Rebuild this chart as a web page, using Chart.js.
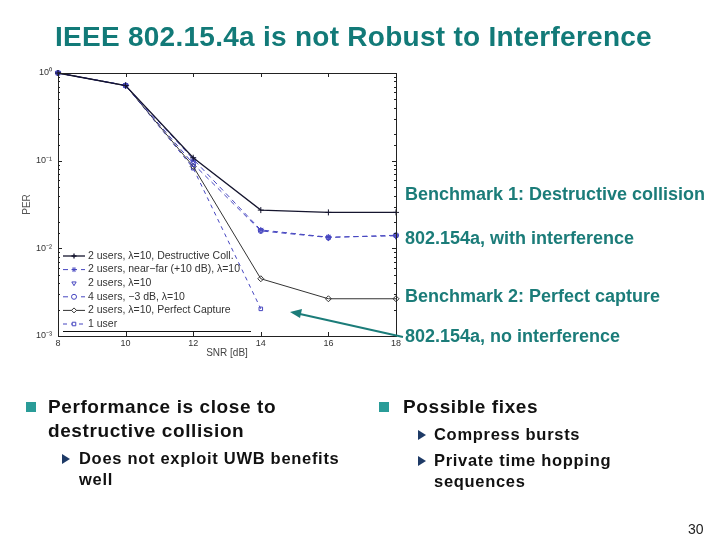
<!DOCTYPE html>
<html>
<head>
<meta charset="utf-8">
<script src="https://cdn.jsdelivr.net/npm/chart.js@4.4.1/dist/chart.umd.min.js"></script>
<style>
  html, body { margin: 0; padding: 0; background: #fff; }
  #page { position: relative; width: 720px; height: 540px; overflow: hidden; font-family: "Liberation Sans", Arial, sans-serif; }
  #chart { position: absolute; left: 0; top: 0; }
  .t { position: absolute; white-space: nowrap; }
  .title { left: 55px; top: 21px; font-size: 28px; font-weight: bold; color: #127a78; letter-spacing: 0.27px; }
  .note { left: 405px; font-size: 18px; font-weight: bold; color: #1b7c79; }
  .b1 { font-size: 19px; font-weight: bold; color: #111; line-height: 24px; letter-spacing: 0.6px; }
  .b2 { font-size: 16.5px; font-weight: bold; color: #111; line-height: 21px; letter-spacing: 0.7px; }
  .sq { position: absolute; width: 10px; height: 10px; background: #2a9c98; }
  .tri { position: absolute; width: 0; height: 0; border-top: 5px solid transparent; border-bottom: 5px solid transparent; border-left: 8px solid #1e3a66; }
  #arrow { position: absolute; left: 0; top: 0; pointer-events: none; }
</style>
</head>
<body>
<div id="page">
  <canvas id="chart" width="720" height="540"></canvas>

  <div class="t title">IEEE 802.15.4a is not Robust to Interference</div>

  <div class="t note" style="top:184px">Benchmark 1: Destructive collision</div>
  <div class="t note" style="top:228px">802.154a, with interference</div>
  <div class="t note" style="top:286px">Benchmark 2: Perfect capture</div>
  <div class="t note" style="top:326px">802.154a, no interference</div>

  <svg id="arrow" width="720" height="540">
    <line x1="403" y1="337" x2="300" y2="314" stroke="#1b7c79" stroke-width="2"/>
    <polygon points="290,312 302,309 300,318" fill="#1b7c79"/>
  </svg>

  <div class="sq" style="left:26px; top:402px"></div>
  <div class="t b1" style="left:48px; top:395px">Performance is close to<br>destructive collision</div>
  <div class="tri" style="left:62px; top:454px"></div>
  <div class="t b2" style="left:79px; top:448px">Does not exploit UWB benefits<br>well</div>

  <div class="sq" style="left:379px; top:402px"></div>
  <div class="t b1" style="left:403px; top:395px">Possible fixes</div>
  <div class="tri" style="left:418px; top:430px"></div>
  <div class="t b2" style="left:434px; top:424px">Compress bursts</div>
  <div class="tri" style="left:418px; top:456px"></div>
  <div class="t b2" style="left:434px; top:450px">Private time hopping<br>sequences</div>

  <div class="t" style="left:688px; top:521px; font-size:14px; color:#222">30</div>
</div>

<script>
// SNR points (dB) and PER
const snr = [8, 10, 12, 14, 16, 18];
const perDestructive = [1, 0.72, 0.108, 0.0273, 0.0257, 0.0257];
const perNearFar = [1, 0.72, 0.104, 0.0162, 0.0134, 0.0139];
const perTwoUsers = [1, 0.72, 0.097, 0.0160, 0.0131, 0.0137];
const perFourUsers = [1, 0.72, 0.092, 0.0158, 0.0133, 0.0141];
const perCapture = [1, 0.72, 0.086, 0.0045, 0.00266, 0.00266];
const perOneUser = [1, 0.72, 0.082, 0.00204, null, null];

const xTicks = [8, 10, 12, 14, 16, 18];
const yTickLabels = { "0": "10⁰", "-1": "10⁻¹", "-2": "10⁻²", "-3": "10⁻³" };

const seriesNames = [
    "2 users, λ=10, Destructive Coll.",
    "2 users, near−far (+10 dB), λ=10",
    "2 users, λ=10",
    "4 users, −3 dB, λ=10",
    "2 users, λ=10, Perfect Capture",
    "1 user"
];

const BLUE = "#4646c0";
const DARK = "#15152e";

function pts(values) {
    return snr.map((x, i) => ({ x: x, y: values[i] }));
}

function ds(label, values, color, dash, style, extra) {
    return Object.assign({
        label: label,
        data: pts(values),
        borderColor: color,
        backgroundColor: "#ffffff",
        borderWidth: 1,
        borderDash: dash,
        pointStyle: style,
        pointRadius: 3,
        pointBorderColor: color,
        pointBackgroundColor: "rgba(255,255,255,0)",
        pointBorderWidth: 1,
        tension: 0,
        spanGaps: false,
        clip: false
    }, extra || {});
}

// рамка графика, внутренние засечки и легенда внутри области
const boxPlugin = {
    id: "box",
    afterDraw(chart) {
        const { ctx, chartArea: a, scales } = chart;
        ctx.save();
        ctx.strokeStyle = "#222";
        ctx.lineWidth = 1;
        ctx.strokeRect(a.left + 0.5, a.top + 0.5, a.right - a.left, a.bottom - a.top);

        ctx.beginPath();
        scales.x.ticks.forEach(t => {
            const px = Math.round(scales.x.getPixelForValue(t.value)) + 0.5;
            ctx.moveTo(px, a.bottom); ctx.lineTo(px, a.bottom - 4);
            ctx.moveTo(px, a.top); ctx.lineTo(px, a.top + 4);
        });
        scales.y.ticks.forEach(t => {
            const py = Math.round(scales.y.getPixelForValue(t.value)) + 0.5;
            const e = Math.log10(t.value);
            const len = Math.abs(e - Math.round(e)) < 1e-6 ? 4 : 2;
            ctx.moveTo(a.left, py); ctx.lineTo(a.left + len, py);
            ctx.moveTo(a.right, py); ctx.lineTo(a.right - len, py);
        });
        ctx.stroke();

        // legend
        const lx = a.left + 5, top = a.bottom - 80, step = 13.6;
        ctx.font = "10.5px 'Liberation Sans', Arial, sans-serif";
        ctx.textBaseline = "middle";
        chart.data.datasets.forEach((d, i) => {
            const y = top + i * step;
            ctx.strokeStyle = d.borderColor;
            ctx.lineWidth = d.borderWidth;
            if (d.showLine !== false) {
                ctx.setLineDash(d.borderDash || []);
                ctx.beginPath();
                ctx.moveTo(lx, y); ctx.lineTo(lx + 22, y);
                ctx.stroke();
                ctx.setLineDash([]);
            }
            ctx.fillStyle = "#ffffff";
            Chart.helpers.drawPoint(ctx, {
                pointStyle: d.pointStyle, rotation: d.pointRotation || 0,
                radius: 2.5, borderWidth: 1
            }, lx + 11, y);
            ctx.fillStyle = "#333";
            ctx.fillText(d.label, lx + 25, y);
        });
        ctx.strokeStyle = "#111";
        ctx.lineWidth = 1;
        ctx.beginPath();
        ctx.moveTo(lx, a.bottom - 4.5); ctx.lineTo(lx + 188, a.bottom - 4.5);
        ctx.stroke();
        ctx.restore();
    }
};

const ctx = document.getElementById("chart").getContext("2d");
const chart = new Chart(ctx, {
    type: "line",
    data: {
        datasets: [
            ds(seriesNames[0], perDestructive, DARK, [], "cross", { borderWidth: 1.3 }),
            ds(seriesNames[1], perNearFar, BLUE, [5, 4], "star"),
            ds(seriesNames[2], perTwoUsers, BLUE, [], "triangle", { showLine: false, pointRotation: 180 }),
            ds(seriesNames[3], perFourUsers, BLUE, [5, 4], "circle", { pointRadius: 2.5 }),
            ds(seriesNames[4], perCapture, "#333", [], "rectRot"),
            ds(seriesNames[5], perOneUser, BLUE, [4, 4], "rect", { pointRadius: 2.5 })
        ]
    },
    options: {
        responsive: false,
        animation: false,
        layout: { padding: { left: 0, top: 73, right: 324, bottom: 181 } },
        plugins: {
            legend: { display: false },
            tooltip: { enabled: false }
        },
        scales: {
            x: {
                type: "linear",
                min: 8,
                max: 18,
                afterBuildTicks: s => { s.ticks = xTicks.map(v => ({ value: v })); },
                afterFit: s => { s.height = 23; },
                grid: { display: false, drawTicks: false },
                border: { display: false },
                ticks: { color: "#333", font: { size: 9 }, padding: 2 },
                title: { display: true, text: "SNR [dB]", color: "#444", font: { size: 10 }, padding: 0 }
            },
            y: {
                type: "logarithmic",
                min: 0.001,
                max: 1,
                afterFit: s => { s.width = 58; },
                grid: { display: false, drawTicks: false },
                border: { display: false },
                ticks: {
                    autoSkip: false,
                    color: "#333",
                    font: { size: 9 },
                    padding: 6,
                    callback: v => {
                        const e = Math.log10(v);
                        if (Math.abs(e - Math.round(e)) > 1e-6) return "";
                        return yTickLabels[String(Math.round(e))] || "";
                    }
                },
                title: { display: true, text: "PER", color: "#555", font: { size: 10 }, padding: { top: 21 } }
            }
        }
    },
    plugins: [boxPlugin]
});
</script>
</body>
</html>
